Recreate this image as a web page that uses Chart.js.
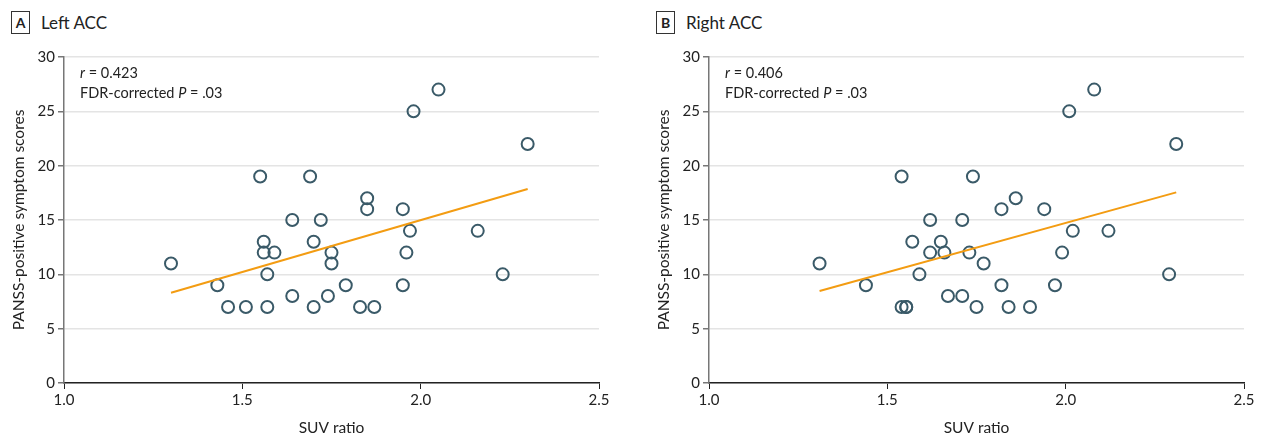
<!DOCTYPE html>
<html>
<head>
<meta charset="utf-8">
<script src="https://cdn.jsdelivr.net/npm/chart.js@4.4.1/dist/chart.umd.min.js"></script>
<style>
  body { margin: 0; background: #fff; width: 1264px; height: 437px; overflow: hidden; font-family: Lato, 'Liberation Sans', sans-serif; }
  .panel { position: absolute; top: 0; width: 619px; height: 437px; }
  .panel canvas { position: absolute; left: 0; top: 0; }
  .head { position: absolute; top: 11px; left: 11px; display: flex; align-items: center; color: #222; }
  .box { width: 17px; height: 21px; border: 1px solid #333; font-weight: bold; font-size: 14px; display: flex; align-items: center; justify-content: center; box-sizing: content-box; }
  .name { margin-left: 11px; font-size: 17px; }
</style>
</head>
<body>
<div class="panel" style="left:0">
  <div class="head"><div class="box">A</div><div class="name">Left ACC</div></div>
  <canvas id="chartA" width="619" height="437"></canvas>
</div>
<div class="panel" style="left:645px">
  <div class="head"><div class="box">B</div><div class="name">Right ACC</div></div>
  <canvas id="chartB" width="619" height="437"></canvas>
</div>
<script>
// --- data ---
const xTicks = [1.0, 1.5, 2.0, 2.5];
const yTicks = [0, 5, 10, 15, 20, 25, 30];

// Left ACC
const leftSuv   = [1.30, 1.43, 1.46, 1.51, 1.55, 1.56, 1.56, 1.59, 1.57, 1.57, 1.64, 1.64, 1.69, 1.70, 1.70, 1.72, 1.74,
                   1.75, 1.75, 1.79, 1.83, 1.85, 1.85, 1.87, 1.95, 1.95, 1.96, 1.97, 1.98, 2.05, 2.16, 2.23, 2.30];
const leftPanss = [11, 9, 7, 7, 19, 13, 12, 12, 10, 7, 15, 8, 19, 13, 7, 15, 8,
                   12, 11, 9, 7, 17, 16, 7, 16, 9, 12, 14, 25, 27, 14, 10, 22];
const leftFitX = [1.30, 2.30];
const leftFitY = [8.31, 17.85];

// Right ACC
const rightSuv   = [1.31, 1.44, 1.54, 1.54, 1.553, 1.553, 1.57, 1.59, 1.62, 1.62, 1.65, 1.66, 1.67, 1.71, 1.71, 1.74, 1.73,
                    1.77, 1.75, 1.82, 1.86, 1.82, 1.84, 1.90, 1.94, 1.97, 1.99, 2.02, 2.01, 2.08, 2.12, 2.29, 2.31];
const rightPanss = [11, 9, 19, 7, 7, 7, 13, 10, 15, 12, 13, 12, 8, 15, 8, 19, 12,
                    11, 7, 16, 17, 9, 7, 7, 16, 9, 12, 14, 25, 27, 14, 10, 22];
const rightFitX = [1.31, 2.31];
const rightFitY = [8.46, 17.54];

const FONT = "Lato, 'Liberation Sans', sans-serif";

// stats text in upper left of plot area
const statsPlugin = {
    id: 'stats',
    afterDraw(chart, args, opts) {
        const ctx = chart.ctx;
        const x = chart.chartArea.left + 16;
        ctx.save();
        ctx.fillStyle = '#222';
        ctx.textBaseline = 'alphabetic';
        ctx.textAlign = 'left';
        ctx.font = 'italic 14.5px ' + FONT;
        ctx.fillText('r', x, 78);
        let w = ctx.measureText('r').width;
        ctx.font = '14.5px ' + FONT;
        ctx.fillText(' = ' + opts.r, x + w, 78);
        const pre = 'FDR-corrected ';
        ctx.fillText(pre, x, 98);
        w = ctx.measureText(pre).width;
        ctx.font = 'italic 14.5px ' + FONT;
        ctx.fillText('P', x + w, 98);
        const w2 = ctx.measureText('P').width;
        ctx.font = '14.5px ' + FONT;
        ctx.fillText(' = .03', x + w + w2, 98);
        ctx.restore();
    }
};

function makeChart(id, xs, ys, fitX, fitY, r) {
    const pts = xs.map((v, i) => ({ x: v, y: ys[i] }));
    const fit = fitX.map((v, i) => ({ x: v, y: fitY[i] }));
    return new Chart(document.getElementById(id), {
        type: 'scatter',
        data: {
            datasets: [{
                data: fit,
                type: 'line',
                borderColor: '#f39c12',
                borderWidth: 2,
                pointRadius: 0,
                fill: false
            }, {
                data: pts,
                pointRadius: 6,
                pointBorderWidth: 2,
                pointBorderColor: '#3a5a68',
                pointBackgroundColor: 'rgba(0,0,0,0)'
            }]
        },
        options: {
            responsive: false,
            animation: false,
            devicePixelRatio: 1,
            layout: { padding: { top: 57, right: 20, left: 0, bottom: 0 } },
            plugins: {
                legend: { display: false },
                tooltip: { enabled: false },
                stats: { r: r }
            },
            scales: {
                x: {
                    type: 'linear', min: 1, max: 2.5,
                    afterBuildTicks: s => { s.ticks = xTicks.map(v => ({ value: v })); },
                    afterFit: s => { s.height = 54; },
                    grid: { drawOnChartArea: false, color: '#222', tickLength: 6 },
                    border: { color: '#222', width: 1.5 },
                    ticks: { color: '#222', font: { family: FONT, size: 15 }, padding: 2, callback: v => v.toFixed(1) },
                    title: { display: true, text: 'SUV ratio', color: '#222', font: { family: FONT, size: 15.5 }, padding: { top: 8, bottom: 0 } }
                },
                y: {
                    min: 0, max: 30,
                    afterBuildTicks: s => { s.ticks = yTicks.map(v => ({ value: v })); },
                    afterFit: s => { s.width = 64; },
                    grid: { color: '#e4e4e4', lineWidth: 1.5, tickColor: '#777', tickLength: 6 },
                    border: { color: '#777', width: 1.5 },
                    ticks: { color: '#222', font: { family: FONT, size: 15 }, padding: 3 },
                    title: { display: true, text: 'PANSS-positive symptom scores', color: '#222', font: { family: FONT, size: 15.5 }, padding: { top: 10, bottom: 10 } }
                }
            }
        },
        plugins: [statsPlugin]
    });
}

makeChart('chartA', leftSuv, leftPanss, leftFitX, leftFitY, '0.423');
makeChart('chartB', rightSuv, rightPanss, rightFitX, rightFitY, '0.406');
</script>
</body>
</html>
